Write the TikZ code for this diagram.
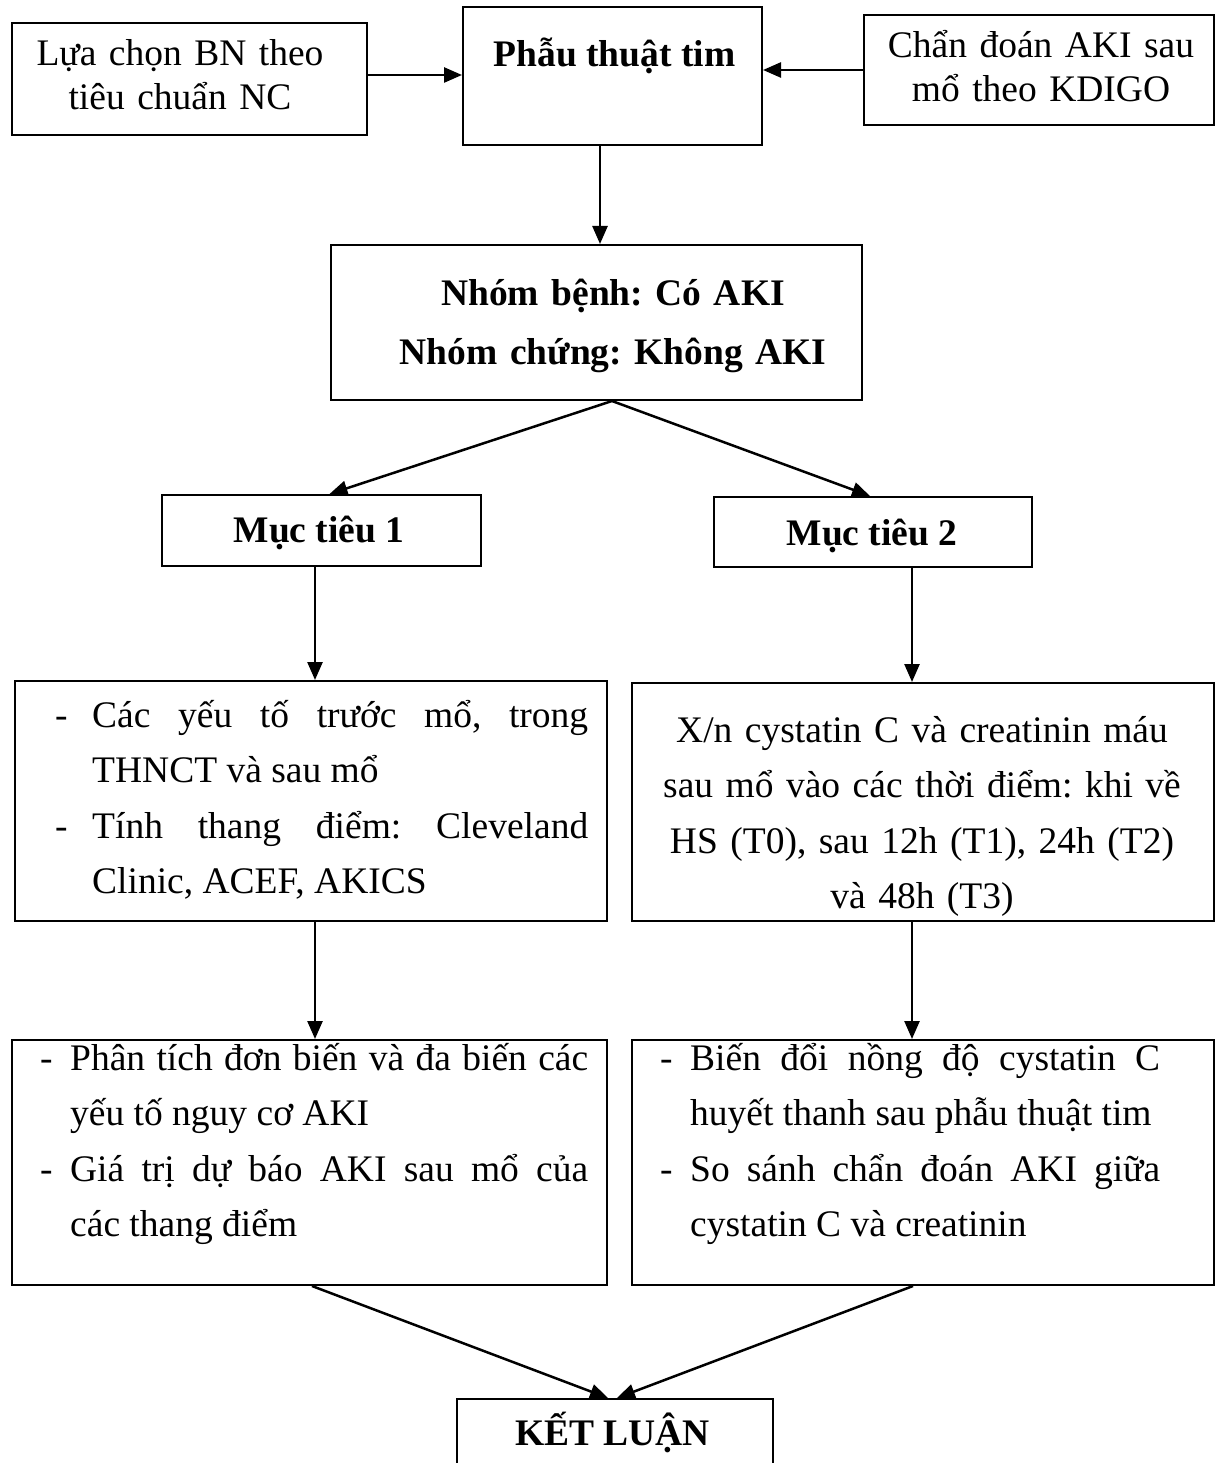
\documentclass[tikz,border=0pt]{standalone}
\usepackage{fontspec}
\setmainfont{Liberation Serif}
\usetikzlibrary{arrows.meta}
\frenchspacing
\newcommand\bodyfont{\fontsize{37.5}{55.5}\selectfont}
\newcommand\topfont{\fontsize{37.5}{44}\selectfont}
\newcommand\midfont{\fontsize{37.5}{59}\selectfont\bfseries}
\newcommand\dashpar[2]{\noindent\hangindent=#1\hangafter=1\makebox[#1][l]{-}#2\par}
\begin{document}
\begin{tikzpicture}[x=1pt,y=-1pt,
  box/.style={draw, line width=2pt, inner sep=0pt, fill=none},
  arr/.style={-{Triangle[length=18pt,width=15pt]}, line width=2.5pt},
  txt/.style={anchor=north, inner sep=0pt, align=center},
  jtxt/.style={anchor=north west, inner sep=0pt, align=justify, font=\bodyfont},
  one/.style={anchor=base, inner sep=0pt, font=\fontsize{37.5}{44}\selectfont\bfseries}]
\clip (0,0) rectangle (1224,1463);
% boxes
\node[box, minimum width=355pt, minimum height=112pt] (A) at (189.5,79) {};
\node[box, minimum width=299pt, minimum height=138pt] (P) at (612.5,76) {};
\node[box, minimum width=350pt, minimum height=110pt] (C) at (1039,70) {};
\node[box, minimum width=531pt, minimum height=155pt] (N) at (596.5,322.5) {};
\node[box, minimum width=319pt, minimum height=71pt] (M1) at (321.5,530.5) {};
\node[box, minimum width=318pt, minimum height=70pt] (M2) at (873,532) {};
\node[box, minimum width=592pt, minimum height=240pt] (L1) at (311,801) {};
\node[box, minimum width=582pt, minimum height=238pt] (R1) at (923,802) {};
\node[box, minimum width=595pt, minimum height=245pt] (L2) at (309.5,1162.5) {};
\node[box, minimum width=582pt, minimum height=245pt] (R2) at (923,1162.5) {};
\node[box, minimum width=316pt, minimum height=101pt] (KL) at (615,1449.5) {};
% texts
\node[txt, text width=350pt, font=\topfont] (tA) at (180,20) {\rule{0pt}{45pt}Lựa chọn BN theo\\tiêu chuẩn NC};
\node[one] (tP) at (614.5,67) {Phẫu thuật tim};
\node[txt, text width=345pt, font=\topfont] (tC) at (1041,12) {\rule{0pt}{45pt}Chẩn đoán AKI sau\\mổ theo KDIGO};
\node[txt, text width=520pt, font=\midfont] (tN) at (613,260) {\rule{0pt}{45pt}Nhóm bệnh: Có AKI\\Nhóm chứng: Không AKI};
\node[one] (tM1) at (319,542) {Mục tiêu 1};
\node[one] (tM2) at (872,545) {Mục tiêu 2};
\node[jtxt, text width=533pt] (tL1) at (55,682) {\dashpar{37pt}{\rule{0pt}{45pt}Các yếu tố trước mổ, trong\linebreak THNCT và sau mổ}\dashpar{37pt}{Tính thang điểm: Cleveland\linebreak Clinic, ACEF, AKICS}};
\node[txt, text width=575pt, font=\bodyfont] (tR1) at (922,697) {\rule{0pt}{45pt}X/n cystatin C và creatinin máu\\sau mổ vào các thời điểm: khi về\\HS (T0), sau 12h (T1), 24h (T2)\\và 48h (T3)};
\node[jtxt, text width=548pt] (tL2) at (40,1025) {\dashpar{30pt}{\rule{0pt}{45pt}Phân tích đơn biến và đa biến các\linebreak yếu tố nguy cơ AKI}\dashpar{30pt}{Giá trị dự báo AKI sau mổ của\linebreak các thang điểm}};
\node[jtxt, text width=500pt] (tR2) at (660,1025) {\dashpar{30pt}{\rule{0pt}{45pt}Biến đổi nồng độ cystatin C\linebreak huyết thanh sau phẫu thuật tim}\dashpar{30pt}{So sánh chẩn đoán AKI giữa\linebreak cystatin C và creatinin}};
\node[one] (tKL) at (612.5,1445) {KẾT LUẬN};
% connectors
\draw[arr] ([yshift=4pt]A.east) -- ([yshift=4pt]A.east -| P.west);
\draw[arr] (C.west) -- (C.west -| P.east);
\draw[arr] ([xshift=3.5pt]N.north |- P.south) -- ([xshift=3.5pt]N.north);
\coordinate (apex) at ([xshift=15.5pt]N.south);
\draw[arr] (apex) -- ([xshift=8pt]M1.north);
\draw[arr] (apex) -- ([xshift=-3pt]M2.north);
\draw[arr] ([xshift=-6.5pt]M1.south) -- ([xshift=-6.5pt]M1.south |- L1.north);
\draw[arr] ([xshift=-11pt]R1.north |- M2.south) -- ([xshift=-11pt]R1.north);
\draw[arr] ([xshift=4pt]L1.south) -- ([xshift=4pt]L1.south |- L2.north);
\draw[arr] ([xshift=-11pt]R1.south) -- ([xshift=-11pt]R1.south |- R2.north);
\draw[arr] ([xshift=2.5pt]L2.south) -- ([xshift=-7pt]KL.north);
\draw[arr] ([xshift=-10pt]R2.south) -- ([xshift=2pt]KL.north);
\end{tikzpicture}
\end{document}
